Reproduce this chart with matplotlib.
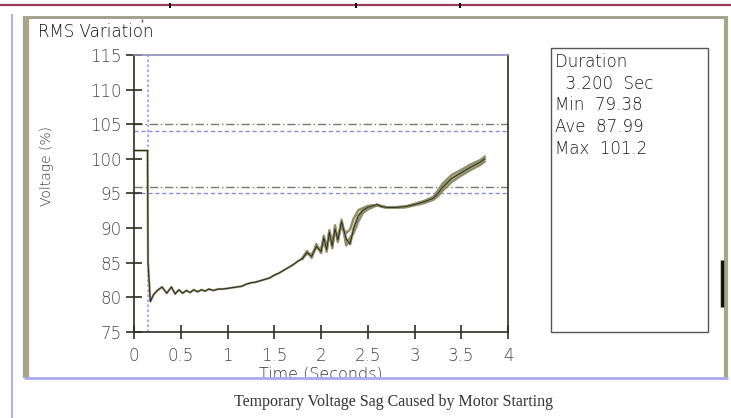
import matplotlib
matplotlib.use("Agg")
import matplotlib.pyplot as plt
from matplotlib.lines import Line2D
from matplotlib.patches import Rectangle

W, H = 731, 418

# trace (phase A, full record)
tempo = [0.01, 0.145, 0.15, 0.175, 0.21, 0.25, 0.30, 0.35, 0.40, 0.44, 0.48,
         0.52, 0.56, 0.60, 0.64, 0.68, 0.72, 0.76, 0.80, 0.85, 0.90, 0.95, 1.00,
         1.05, 1.10, 1.15, 1.20, 1.25, 1.30, 1.35, 1.40, 1.45, 1.50, 1.55, 1.60,
         1.65, 1.70, 1.75, 1.80]
fase_a = [101.2, 101.2, 85.0, 79.4, 80.4, 81.0, 81.5, 80.6, 81.5, 80.5, 81.1,
          80.6, 81.0, 80.7, 81.1, 80.8, 81.1, 80.9, 81.2, 81.0, 81.2, 81.2, 81.3,
          81.4, 81.5, 81.6, 81.9, 82.1, 82.2, 82.4, 82.6, 82.8, 83.2, 83.5, 83.9,
          84.3, 84.7, 85.2, 85.6]

# segment where the three phases separate
tempo_rec = [1.80, 1.85, 1.90, 1.95, 2.00, 2.03, 2.06, 2.09, 2.12, 2.15, 2.18, 2.22,
             2.27, 2.31, 2.35, 2.40, 2.45, 2.50, 2.55, 2.60, 2.65, 2.70, 2.80, 2.90,
             3.00, 3.10, 3.20, 3.25, 3.30, 3.40, 3.50, 3.60, 3.70, 3.75]
rec_a = [85.6, 86.5, 85.9, 87.4, 86.6, 88.6, 86.9, 89.4, 87.4, 89.9, 88.3, 90.9,
         88.4, 87.7, 90.0, 91.8, 92.6, 93.0, 93.2, 93.4, 93.1, 93.0, 93.0, 93.1,
         93.4, 93.8, 94.3, 95.0, 95.9, 97.2, 98.0, 98.8, 99.5, 100.0]
rec_b = [85.6, 86.3, 86.2, 87.1, 87.0, 88.2, 87.3, 89.0, 87.9, 89.4, 88.9, 90.2,
         89.3, 89.8, 91.4, 92.6, 92.9, 93.2, 93.3, 93.3, 93.1, 93.0, 93.0, 93.1,
         93.5, 93.9, 94.5, 95.4, 96.4, 97.7, 98.4, 99.2, 99.8, 100.3]
rec_c = [85.6, 86.7, 85.7, 87.7, 86.4, 88.9, 86.6, 89.7, 87.1, 90.4, 88.0, 91.2,
         87.5, 88.6, 89.3, 91.0, 92.2, 92.7, 93.0, 93.3, 93.2, 93.0, 93.0, 93.0,
         93.3, 93.6, 94.1, 94.6, 95.4, 96.7, 97.6, 98.4, 99.1, 99.6]

limites_cinza = [105, 96]
limites_azuis = [104, 95]
gatilho = 0.153

y_ticks = [75, 80, 85, 90, 95, 100, 105, 110, 115]
x_ticks = [0, 0.5, 1, 1.5, 2, 2.5, 3, 3.5, 4]
x_labels = ["0", "0.5", "1", "1.5", "2", "2.5", "3", "3.5", "4"]

stats_labels = ["Duration", "  3.200  Sec", "Min  79.38", "Ave  87.99", "Max  101.2"]

OLIVA = "#8e8e6a"
EIXO = "#2e2e22"
TXT = "#484848"
FONTE = "DejaVu Sans"


def fx(x):
    return x / W


def fy(y):
    return 1 - y / H


fig = plt.figure(figsize=(W / 100, H / 100), dpi=100)
fig.patch.set_facecolor("white")

ax = fig.add_axes([fx(134), fy(332), fx(508) - fx(134), fy(55) - fy(332)])
ax.set_xlim(0, 4)
ax.set_ylim(75, 115)

# reference lines
for v in limites_cinza:
    ax.axhline(v, color="#7a7a6a", lw=1.0, ls=(0, (6, 2, 1, 2)), zorder=1)
for v in limites_azuis:
    ax.axhline(v, color="#8c8cd8", lw=1.0, ls=(0, (3, 2)), zorder=1)
ax.axvline(gatilho, color="#9a9aff", lw=1.2, ls=(0, (1.5, 1.5)), zorder=1)

# traces
ax.plot(tempo, fase_a, color=OLIVA, lw=1.6, zorder=2)
ax.plot(tempo_rec, rec_b, color=OLIVA, lw=1.8, zorder=2)
ax.plot(tempo_rec, rec_c, color=OLIVA, lw=1.8, zorder=2)
ax.plot(tempo_rec, rec_a, color=OLIVA, lw=2.0, zorder=2)
ax.plot(tempo, fase_a, color="#1e1e18", lw=0.6, zorder=3)
ax.plot(tempo_rec, rec_a, color="#1e1e18", lw=0.6, zorder=3)

ax.set_yticks(y_ticks)
ax.set_xticks(x_ticks)
ax.set_xticklabels(x_labels)
ax.tick_params(axis="y", which="major", direction="inout", length=12, width=1.2,
               color=EIXO, labelsize=12, labelcolor=TXT, pad=3, left=True)
ax.tick_params(axis="x", which="major", direction="inout", length=10, width=1.2,
               color=EIXO, labelsize=12, labelcolor=TXT, pad=6, bottom=True)
for lab in ax.get_xticklabels() + ax.get_yticklabels():
    lab.set_fontfamily(FONTE)
    lab.set_fontweight("light")

for lado in ["left", "bottom", "right"]:
    ax.spines[lado].set_color(EIXO)
    ax.spines[lado].set_linewidth(1.2)
ax.spines["top"].set_color("#8f8fb8")
ax.spines["top"].set_linewidth(1.2)

ax.set_ylabel("Voltage (%)", fontsize=10, family=FONTE, color="#333333",
              fontweight="light")
ax.yaxis.set_label_coords(-0.215, 0.6)
ax.set_xlabel("Time (Seconds)", fontsize=11.5, family=FONTE, color="#333333",
              fontweight="light")
ax.xaxis.set_label_coords(0.5, -0.123)

# cover below the window frame (clips the axis label like the original)
fig.add_artist(Rectangle((0, 0), 1, fy(378), transform=fig.transFigure,
                         facecolor="white", edgecolor="none", zorder=5))


def linha(x0, y0, x1, y1, cor, lw, z=6):
    fig.add_artist(Line2D([fx(x0), fx(x1)], [fy(y0), fy(y1)], color=cor, lw=lw,
                          transform=fig.transFigure, zorder=z, solid_capstyle="butt"))


# window frame
linha(0, 5, W, 5, "#9a3a5c", 1.6)
for xm in [170, 356, 460]:
    linha(xm, 3, xm, 8, "black", 1.4)
linha(12, 14, 12, H, "#b4acf2", 1.4)
linha(24, 17, 727, 17, "#9c9c88", 2.0)
linha(26, 16, 26, 378, "#a6a68a", 4.5)
linha(726, 16, 726, 378, "#a6a68a", 3.0)
linha(722, 260, 722, 307, "#111111", 2.5)
linha(24, 377.5, 728, 377.5, "#aaaaf0", 2.0)
linha(142, 19, 142, 22, "#555555", 1.0)

fig.text(fx(38), fy(32), "RMS Variation", fontsize=12, family=FONTE,
         fontweight="light", color="#111111", ha="left", va="center")

# stats box
fig.add_artist(Rectangle((fx(551), fy(332)), fx(708) - fx(551), fy(48) - fy(332),
                         transform=fig.transFigure, facecolor="none",
                         edgecolor="#555555", lw=1.0, zorder=6))
for i, s in enumerate(stats_labels):
    fig.text(fx(555), fy(62 + i * 21.7), s, fontsize=12, family=FONTE,
             fontweight="light", color="#1a1a1a", ha="left", va="center", zorder=7)

fig.text(fx(393), fy(402), "Temporary Voltage Sag Caused by Motor Starting",
         fontsize=11.5, family="Liberation Serif", color="#333333",
         ha="center", va="center", zorder=7)

fig.savefig("out.png", dpi=100)
